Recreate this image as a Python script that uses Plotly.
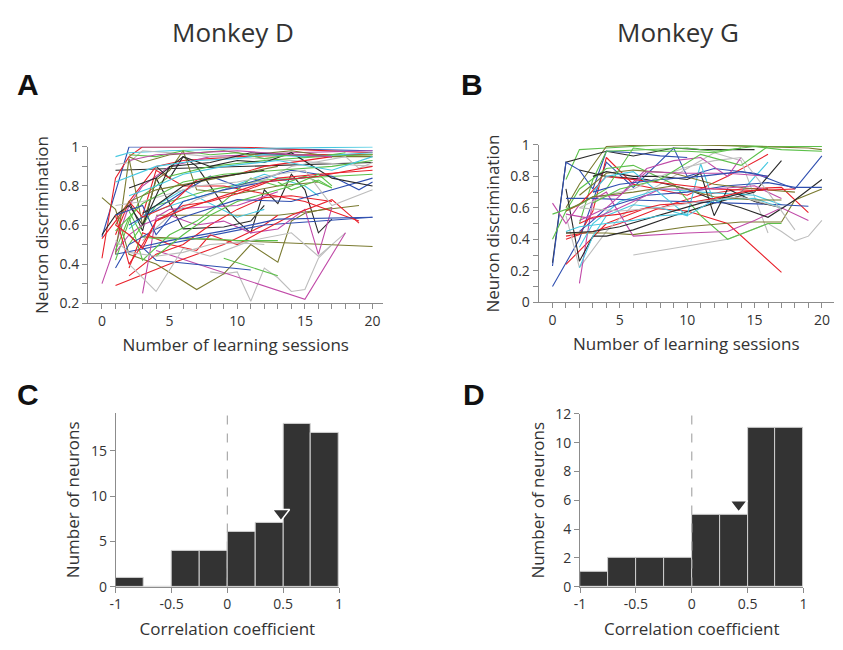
import plotly.graph_objects as go

# ---------------- data ----------------
COL = {"R": "#e8202a", "G": "#5cc04a", "B": "#2f4fb0", "K": "#2a2a2a",
       "Y": "#bdbdbd", "O": "#7a7a30", "C": "#45c8e0", "M": "#c04aa8"}

# Panel A (Monkey D): per-neuron discrimination over learning sessions
A_colors = ["K", "B", "R", "R", "M", "C", "K", "K", "Y", "M", "O", "O", "O", "R", "B", "G", "B", "R",
            "Y", "G", "G", "C", "C", "M", "M", "R", "R", "O", "O", "G", "G", "B", "B", "B", "Y", "Y",
            "Y", "K", "C", "R", "G", "K", "O", "R", "G", "M", "C", "B", "G", "R", "K", "Y", "G"]
A_x = [[1, 20], [0, 2, 6, 12, 20], [0, 1, 2, 3, 10, 20], [0, 1, 2, 4, 6, 10, 16, 20],
       [0, 1, 2, 3, 5, 8, 14, 20], [1, 2, 5, 10, 20],
       [4, 5, 6, 7, 8, 9, 10, 11, 12, 13, 14, 15, 16, 17], [2, 3, 4, 6, 9, 11, 12],
       [8, 9, 10, 11, 12, 13, 14, 15, 16, 17, 18], [4, 15, 18],
       [0, 1, 2, 4, 7, 9, 11, 13, 14, 15, 17], [3, 20], [4, 13, 19], [1, 5, 9, 12, 13],
       [1, 12, 20], [9, 13], [2, 4, 11], [2, 4, 6, 8, 10, 12, 14, 17],
       [1, 2, 3, 5, 8, 12, 16, 20], [1, 2, 3, 5, 8, 12, 16, 20], [2, 3, 4, 8, 12, 20],
       [2, 4, 6, 10, 12], [3, 6, 9, 12, 15, 16], [3, 4, 5, 7, 10, 13],
       [1, 2, 3, 4, 5, 7, 9, 11, 13, 15, 16, 17], [2, 3, 5, 7, 8, 10, 14, 17, 19],
       [3, 4, 6, 9, 12, 15, 19], [2, 3, 5, 7, 9, 11, 14, 17, 20], [1, 2, 3, 4, 5, 6, 7, 10, 13, 16],
       [1, 2, 3, 5, 7, 9, 11, 13, 15, 17], [2, 3, 4, 6, 8, 10, 13], [1, 2, 4, 6, 10, 14, 17, 20],
       [2, 4, 6, 8, 10, 14, 17, 19, 20], [3, 5, 9, 13, 20], [2, 4, 6, 8, 11, 14, 16, 17],
       [3, 5, 7, 9, 12, 14, 18, 19, 20], [1, 3, 5, 7, 10, 13, 15, 17, 20],
       [2, 4, 6, 8, 10, 12, 14, 17, 20], [1, 4, 7, 10, 12, 15, 20], [1, 2, 3, 5, 7, 10, 12, 15, 17],
       [1, 3, 6, 9, 13, 17, 20], [0, 1, 2, 3, 5, 8, 11, 14, 17], [1, 2, 4, 7, 10, 13],
       [1, 2, 3, 4, 5, 6, 8, 10, 13, 16, 20], [2, 4, 6, 8, 10, 12, 14, 16, 18],
       [2, 4, 7, 10, 14, 17], [2, 4, 6, 9, 13, 17, 20], [1, 3, 4, 6, 9, 12, 16],
       [4, 6, 8, 10, 12, 14, 16, 17], [1, 2, 3, 4, 6, 9, 12, 16, 20], [3, 4, 5, 6, 8, 10, 12],
       [1, 2, 4, 6, 8, 10, 12], [13, 14, 16, 17]]
A_y = [[0.88, 0.92], [0.54, 1.0, 1.0, 0.99, 0.98], [0.43, 0.84, 0.95, 1.0, 1.0, 0.97],
       [0.53, 0.62, 0.72, 0.9, 0.93, 0.95, 0.96, 0.96], [0.30, 0.5, 0.7, 0.8, 0.9, 0.95, 0.97, 0.98],
       [0.95, 0.97, 0.98, 0.99, 1.0],
       [0.9, 0.84, 0.95, 0.9, 0.8, 0.7, 0.62, 0.56, 0.78, 0.71, 0.86, 0.78, 0.56, 0.63],
       [0.72, 0.57, 0.84, 0.58, 0.59, 0.62, 0.7],
       [0.36, 0.35, 0.36, 0.21, 0.38, 0.33, 0.26, 0.27, 0.43, 0.5, 0.56], [0.47, 0.22, 0.56],
       [0.74, 0.68, 0.45, 0.4, 0.27, 0.35, 0.5, 0.41, 0.62, 0.66, 0.69], [0.54, 0.49],
       [0.65, 0.65, 0.7], [0.29, 0.4, 0.5, 0.6, 0.65], [0.45, 0.6, 0.64], [0.43, 0.34],
       [0.55, 0.42, 0.37], [0.34, 0.45, 0.5, 0.6, 0.68, 0.74, 0.75, 0.72],
       [0.91, 0.92, 0.98, 0.97, 0.95, 0.94, 0.92, 0.9], [0.42, 0.62, 0.75, 0.85, 0.9, 0.93, 0.95, 0.96],
       [0.5, 0.6, 0.7, 0.78, 0.83, 0.86], [0.58, 0.7, 0.78, 0.64, 0.68],
       [0.65, 0.72, 0.78, 0.86, 0.8, 0.75], [0.25, 0.64, 0.68, 0.69, 0.7, 0.77],
       [0.46, 0.55, 0.6, 0.63, 0.65, 0.6, 0.62, 0.56, 0.58, 0.68, 0.45, 0.69],
       [0.38, 0.56, 0.5, 0.47, 0.55, 0.5, 0.65, 0.73, 0.61], [0.65, 0.88, 0.8, 0.8, 0.76, 0.72, 0.62],
       [0.95, 0.92, 0.96, 0.97, 0.98, 0.96, 0.98, 0.95, 0.95],
       [0.45, 0.94, 0.6, 0.83, 0.88, 0.98, 0.78, 0.76, 0.8, 0.82],
       [0.47, 0.64, 0.42, 0.55, 0.62, 0.72, 0.84, 0.8, 0.85, 0.79],
       [0.67, 0.54, 0.53, 0.53, 0.53, 0.52, 0.52], [0.38, 0.5, 0.58, 0.64, 0.73, 0.72, 0.78, 0.84],
       [0.6, 0.68, 0.77, 0.85, 0.8, 0.88, 0.85, 0.78, 0.82], [0.49, 0.52, 0.57, 0.63, 0.64],
       [0.4, 0.26, 0.48, 0.44, 0.52, 0.56, 0.44, 0.5],
       [0.52, 0.65, 0.73, 0.78, 0.83, 0.9, 0.95, 0.89, 0.92],
       [0.7, 0.72, 0.76, 0.8, 0.82, 0.86, 0.88, 0.7, 0.78],
       [0.79, 0.84, 0.95, 0.9, 0.93, 0.92, 0.97, 0.84, 0.8], [0.82, 0.9, 0.93, 0.94, 0.96, 0.95, 0.97],
       [0.55, 0.72, 0.64, 0.7, 0.83, 0.86, 0.9, 0.93, 0.95], [0.57, 0.71, 0.82, 0.86, 0.88, 0.9, 0.93],
       [0.55, 0.65, 0.7, 0.6, 0.9, 0.92, 0.97, 0.96, 0.95], [0.6, 0.72, 0.78, 0.82, 0.86, 0.9],
       [0.6, 0.55, 0.48, 0.62, 0.66, 0.7, 0.72, 0.76, 0.84, 0.86, 0.88],
       [0.96, 0.95, 0.98, 0.96, 0.97, 0.94, 0.96, 0.95, 0.97], [0.93, 0.96, 0.97, 0.98, 0.96, 0.95],
       [0.75, 0.8, 0.86, 0.9, 0.93, 0.88, 0.95], [0.65, 0.7, 0.55, 0.72, 0.78, 0.82, 0.85],
       [0.44, 0.55, 0.65, 0.72, 0.76, 0.8, 0.86, 0.8], [0.65, 0.4, 0.5, 0.62, 0.68, 0.75, 0.82, 0.85, 0.9],
       [0.66, 0.7, 0.75, 0.8, 0.84, 0.86, 0.88], [0.52, 0.46, 0.44, 0.46, 0.5, 0.51, 0.5],
       [0.82, 0.78, 0.83, 0.79]]

# Panel B (Monkey G)
B_colors = ["G", "O", "K", "B", "B", "R", "R", "R", "Y", "Y", "G", "O", "M", "M", "K", "K", "C", "C",
            "G", "B", "B", "O", "K", "R", "M", "G", "Y", "C", "O", "K", "M", "R", "B", "G", "Y", "C"]
B_x = [[1, 2, 4, 8, 12, 16, 20], [1, 2, 4, 7, 11, 15, 19, 20], [0, 1, 4, 6, 9, 11, 15],
       [0, 1, 2, 3, 4, 6, 8, 10], [0, 2, 4, 6, 9, 10, 12, 15, 18, 20], [1, 2, 3, 4, 6, 10, 13, 16],
       [1, 4, 7, 10, 13, 17], [1, 3, 5, 8, 11, 14, 17, 19], [6, 13, 16, 17, 18, 19, 20],
       [1, 2, 4, 7, 10, 12, 14, 16], [0, 1, 2, 4, 6, 9, 11, 13, 16, 17],
       [1, 4, 6, 10, 14, 17, 18, 20], [2, 3, 4, 6, 10, 13, 15, 17, 19],
       [0, 1, 2, 3, 5, 7, 9, 11, 13, 14], [1, 2, 3, 4, 6, 9, 12, 15, 17],
       [2, 4, 7, 10, 12, 14, 16, 18, 20], [2, 3, 4, 6, 8, 10, 11, 12, 14, 16],
       [2, 3, 5, 8, 11, 15, 17], [2, 3, 4, 7, 10, 12, 15, 17, 20], [1, 3, 6, 10, 14, 17, 19],
       [2, 3, 4, 7, 10, 13, 16, 18, 20], [2, 4, 6, 9, 12, 15, 18],
       [3, 4, 6, 8, 10, 11, 12, 13, 15, 17], [1, 2, 4, 6, 9, 12, 15, 18], [1, 3, 5, 8, 12, 15, 17],
       [0, 2, 4, 6, 8, 10, 12, 14], [2, 4, 6, 8, 10, 12, 14, 16, 18], [3, 4, 6, 10, 12, 15, 17],
       [1, 3, 6, 9, 12, 15, 17], [1, 3, 5, 7, 9, 11, 13, 15, 16], [2, 4, 7, 10, 13, 16],
       [2, 3, 5, 8, 10, 12, 14, 16], [3, 5, 8, 11, 14, 16], [3, 5, 8, 11, 14, 16],
       [2, 5, 8, 11, 14, 17], [1, 2, 4, 6, 8, 10]]
B_y = [[0.78, 0.97, 0.98, 1.0, 1.0, 0.99, 0.99], [0.6, 0.75, 0.99, 1.0, 1.0, 0.99, 0.98, 0.97],
       [0.25, 0.89, 0.96, 0.93, 0.98, 0.97, 0.97], [0.23, 0.89, 0.84, 0.72, 0.96, 0.95, 0.93, 0.92],
       [0.1, 0.4, 0.89, 0.73, 0.98, 0.8, 0.85, 0.82, 0.72, 0.93],
       [0.4, 0.43, 0.58, 0.92, 0.75, 0.68, 0.8, 0.94], [0.24, 0.5, 0.6, 0.58, 0.5, 0.19],
       [0.42, 0.45, 0.5, 0.6, 0.68, 0.72, 0.73, 0.57], [0.3, 0.4, 0.5, 0.45, 0.39, 0.42, 0.52],
       [0.55, 0.22, 0.45, 0.7, 0.85, 0.95, 0.9, 0.44],
       [0.4, 0.58, 0.72, 0.85, 0.87, 0.75, 0.55, 0.4, 0.5, 0.5],
       [0.44, 0.44, 0.43, 0.48, 0.51, 0.51, 0.65, 0.72],
       [0.12, 0.65, 0.7, 0.42, 0.44, 0.45, 0.52, 0.6, 0.52],
       [0.63, 0.5, 0.62, 0.67, 0.68, 0.85, 0.9, 0.92, 0.8, 0.92],
       [0.72, 0.26, 0.42, 0.42, 0.46, 0.55, 0.63, 0.7, 0.9],
       [0.84, 0.8, 0.78, 0.72, 0.65, 0.6, 0.54, 0.65, 0.78],
       [0.22, 0.42, 0.55, 0.62, 0.6, 0.55, 0.88, 0.63, 0.7, 0.89],
       [0.35, 0.5, 0.64, 0.72, 0.7, 0.68, 0.62], [0.5, 0.78, 0.96, 0.97, 0.98, 0.96, 0.99, 0.97, 0.96],
       [0.66, 0.66, 0.65, 0.64, 0.63, 0.62, 0.61], [0.45, 0.52, 0.6, 0.68, 0.7, 0.74, 0.76, 0.73, 0.73],
       [0.68, 0.82, 0.84, 0.82, 0.75, 0.72, 0.7], [0.8, 0.83, 0.8, 0.8, 0.78, 0.82, 0.55, 0.72, 0.64, 0.6],
       [0.58, 0.62, 0.8, 0.78, 0.75, 0.72, 0.71, 0.72], [0.56, 0.53, 0.6, 0.72, 0.72, 0.74, 0.66],
       [0.56, 0.62, 0.72, 0.98, 0.96, 0.96, 0.95, 0.98], [0.6, 0.68, 0.72, 0.8, 0.86, 0.9, 0.92, 0.7, 0.46],
       [0.7, 0.8, 0.83, 0.55, 0.65, 0.66, 0.6], [0.58, 0.67, 0.7, 0.74, 0.67, 0.65, 0.65],
       [0.44, 0.45, 0.48, 0.53, 0.58, 0.63, 0.67, 0.71, 0.72], [0.52, 0.6, 0.83, 0.82, 0.82, 0.8],
       [0.5, 0.54, 0.56, 0.62, 0.63, 0.66, 0.7, 0.72], [0.7, 0.75, 0.78, 0.8, 0.83, 0.8],
       [0.63, 0.72, 0.78, 0.94, 0.87, 0.99], [0.6, 0.58, 0.6, 0.64, 0.67, 0.6],
       [0.45, 0.48, 0.5, 0.52, 0.55, 0.56]]

# Histograms of correlation coefficients
bin_centers = [-0.875, -0.625, -0.375, -0.125, 0.125, 0.375, 0.625, 0.875]
C_counts = [1, 0, 4, 4, 6, 7, 18, 17]
D_counts = [1, 2, 2, 2, 5, 5, 11, 11]
C_median = [0.48, 8.1]
D_median = [0.42, 5.7]

# ---------------- figure ----------------
FONT = "Open Sans"
AX = "#8c8c8c"
TXT = "#333333"

fig = go.Figure()
for cs, xs, ys, xa, ya in [(A_colors, A_x, A_y, "x", "y"), (B_colors, B_x, B_y, "x2", "y2")]:
    for c, x, y in zip(cs, xs, ys):
        fig.add_trace(go.Scatter(x=x, y=y, mode="lines", line=dict(color=COL[c], width=1.1),
                                 xaxis=xa, yaxis=ya, showlegend=False, hoverinfo="skip"))

for counts, med, xa, ya, top in [(C_counts, C_median, "x3", "y3", 19.2), (D_counts, D_median, "x4", "y4", 12)]:
    fig.add_trace(go.Bar(x=bin_centers, y=counts, width=0.25, marker=dict(color="#333333",
                         line=dict(color="#d0d0d0", width=1)), xaxis=xa, yaxis=ya, showlegend=False))
    fig.add_trace(go.Scatter(x=[0, 0], y=[0, top], mode="lines", line=dict(color="#aaaaaa", width=1.2, dash="dash"),
                             xaxis=xa, yaxis=ya, showlegend=False))
    fig.add_trace(go.Scatter(x=[med[0]], y=[med[1]], mode="markers",
                             marker=dict(symbol="triangle-down", size=15, color="#333333",
                                         line=dict(color="white", width=1.5)),
                             xaxis=xa, yaxis=ya, showlegend=False))

axcommon = dict(showline=True, linecolor=AX, linewidth=1, ticks="outside", tickcolor=AX, ticklen=5,
                showgrid=False, zeroline=False, tickfont=dict(size=14, color=TXT, family=FONT))

sess_vals = list(range(0, 21))
sess_text = [str(v) if v % 5 == 0 else "" for v in sess_vals]
A_yvals = [0.2, 0.3, 0.4, 0.5, 0.6, 0.7, 0.8, 0.9, 1.0]
A_ytext = ["0.2", "", "0.4", "", "0.6", "", "0.8", "", "1"]
B_yvals = [0, 0.1, 0.2, 0.3, 0.4, 0.5, 0.6, 0.7, 0.8, 0.9, 1.0]
B_ytext = ["0", "", "0.2", "", "0.4", "", "0.6", "", "0.8", "", "1"]
corr_vals = [-1, -0.5, 0, 0.5, 1]
corr_text = ["-1", "-0.5", "0", "0.5", "1"]

TF = dict(size=17, color=TXT, family=FONT)
xt_sess = dict(text="Number of learning sessions", font=TF, standoff=10)
yt_disc = dict(text="Neuron discrimination", font=TF, standoff=6)
xt_corr = dict(text="Correlation coefficient", font=TF, standoff=10)
yt_neur = dict(text="Number of neurons", font=TF, standoff=6)

fig.update_layout(
    width=843, height=650, margin=dict(l=0, r=0, t=0, b=0),
    paper_bgcolor="white", plot_bgcolor="white", showlegend=False, bargap=0,
    font=dict(family=FONT, color=TXT),
    xaxis=dict(axcommon, domain=[0.0985, 0.453], range=[-1.03, 20.8], tickvals=sess_vals, ticktext=sess_text,
               anchor="y", title=xt_sess),
    yaxis=dict(axcommon, domain=[0.5354, 0.7831], range=[0.2, 1.0], tickvals=A_yvals, ticktext=A_ytext,
               anchor="x", title=yt_disc),
    xaxis2=dict(axcommon, domain=[0.6394, 0.994], range=[-1.03, 20.9], tickvals=sess_vals, ticktext=sess_text,
                anchor="y2", title=xt_sess),
    yaxis2=dict(axcommon, domain=[0.5369, 0.7862], range=[0, 1.0], tickvals=B_yvals, ticktext=B_ytext,
                anchor="x2", title=yt_disc),
    xaxis3=dict(axcommon, domain=[0.1317, 0.3998], range=[-1.0, 1.0], tickvals=corr_vals, ticktext=corr_text,
                anchor="y3", title=xt_corr),
    yaxis3=dict(axcommon, domain=[0.0862, 0.3615], range=[0, 19.2], tickvals=[0, 5, 10, 15],
                anchor="x3", title=yt_neur),
    xaxis4=dict(axcommon, domain=[0.6892, 0.9573], range=[-1.0, 1.0], tickvals=corr_vals, ticktext=corr_text,
                anchor="y4", title=xt_corr),
    yaxis4=dict(axcommon, domain=[0.0862, 0.36], range=[0, 12], tickvals=[0, 2, 4, 6, 8, 10, 12],
                anchor="x4", title=yt_neur),
)

annots = [("Monkey D", 230, 23, 26, False), ("Monkey G", 680, 23, 26, False),
          ("A", 22, 77, 30, True), ("B", 472, 77, 30, True),
          ("C", 22, 396, 30, True), ("D", 474, 396, 30, True)]
for txt, px, py, sz, bold in annots:
    fig.add_annotation(text=f"<b>{txt}</b>" if bold else txt, x=px / 843, y=1 - py / 650,
                       xref="paper", yref="paper", xanchor="center", yanchor="middle", showarrow=False,
                       font=dict(size=sz, color="#111111" if bold else TXT,
                                 family="Liberation Sans" if bold else FONT))

fig.write_html("out.html")
